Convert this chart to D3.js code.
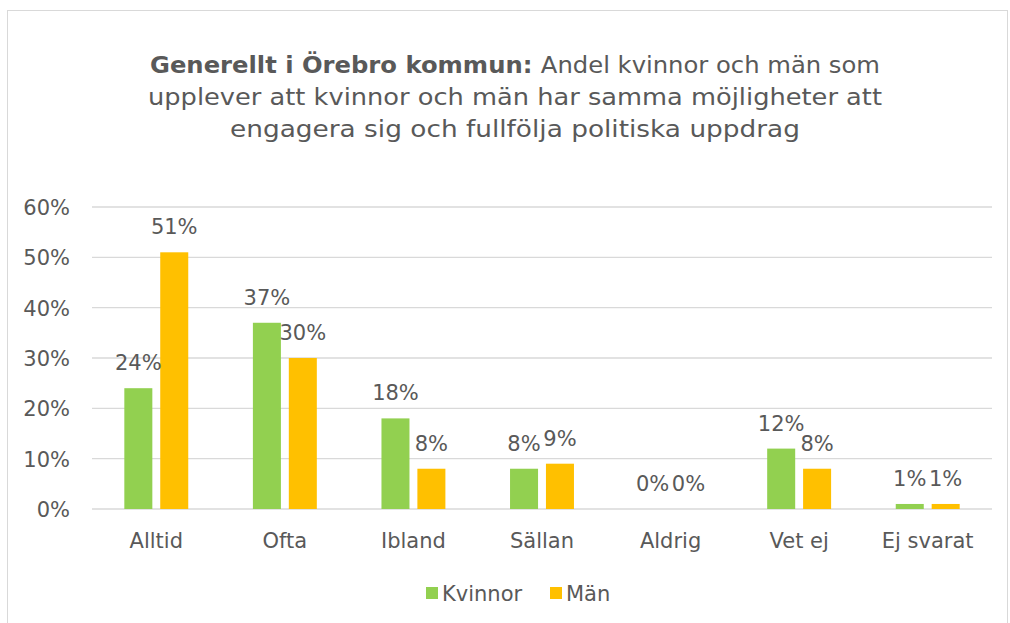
<!DOCTYPE html>
<html><head><meta charset="utf-8">
<script src="https://cdn.jsdelivr.net/npm/d3@7"></script>
<style>body{margin:0;background:#fff}svg{display:block}text{font-family:"DejaVu Sans",sans-serif;fill:#595959}</style>
</head><body>
<svg id="c" width="1010" height="623"></svg>
<script>
const categories = ["Alltid","Ofta","Ibland","Sällan","Aldrig","Vet ej","Ej svarat"];
const seriesNames = ["Kvinnor","Män"];
const kvinnor = [24,37,18,8,0,12,1];
const man = [51,30,8,9,0,8,1];
const yTicks = [0,10,20,30,40,50,60];
const colors = ["#92D050","#FFC000"];
const FS = "21px";

const svg = d3.select("#c");
svg.append("rect").attr("x",7.5).attr("y",10.5).attr("width",1000).attr("height",620)
  .attr("fill","#fff").attr("stroke","#D9D9D9");

const x0 = d3.scaleBand().domain(categories).range([92,992]);
const x1 = d3.scaleBand().domain(seriesNames).range([0,x0.bandwidth()]).paddingInner(0.22).paddingOuter(0.9);
const y = d3.scaleLinear().domain([0,60]).range([509,207]);

// gridlines
svg.append("g").selectAll("line").data(yTicks).join("line")
  .attr("x1",92).attr("x2",992).attr("y1",d=>y(d)).attr("y2",d=>y(d))
  .attr("stroke","#D9D9D9").attr("stroke-width",1.3);

// y axis labels
const yAxis = d3.axisLeft(y).tickValues(yTicks).tickFormat(d=>d+"%").tickSize(0).tickPadding(0);
const ya = svg.append("g").attr("transform","translate(70,0)").call(yAxis);
ya.select(".domain").remove();
ya.selectAll("text").style("font-size",FS).style("fill","#595959").style("font-family","DejaVu Sans").attr("dy","0.36em");

// x axis
const xAxis = d3.axisBottom(x0).tickSize(0).tickPadding(0);
const xa = svg.append("g").attr("transform","translate(0,548)").call(xAxis);
xa.select(".domain").remove();
xa.selectAll("text").style("font-size",FS).style("fill","#595959").style("font-family","DejaVu Sans").attr("dy","0").attr("y",0);

const data = categories.map((c,i)=>({c, vals:[{s:"Kvinnor",v:kvinnor[i]},{s:"Män",v:man[i]}]}));
const g = svg.append("g").selectAll("g").data(data).join("g").attr("transform",d=>`translate(${x0(d.c)},0)`);
g.selectAll("rect").data(d=>d.vals).join("rect")
  .attr("x",d=>x1(d.s)).attr("width",x1.bandwidth())
  .attr("y",d=>y(d.v)).attr("height",d=>y(0)-y(d.v))
  .attr("fill",(d,i)=>colors[i]);
g.selectAll("text.lbl").data(d=>d.vals).join("text").attr("class","lbl")
  .attr("x",d=>x1(d.s)+x1.bandwidth()/2).attr("y",d=>y(d.v)-18)
  .attr("text-anchor","middle").style("font-size",FS)
  .text(d=>d.v+"%");

// title
const tl = [ [["Generellt i Örebro kommun: ","bold"],["Andel kvinnor och män som","normal"]],
  [["upplever att kvinnor och män har samma möjligheter att","normal"]],
  [["engagera sig och fullfölja politiska uppdrag","normal"]] ];
const ty = [73,105,137];
const tw = [730,734,570];
tl.forEach((line,i)=>{
  const t = svg.append("text").attr("x",515).attr("y",ty[i]).attr("text-anchor","middle").style("font-size","23px")
    .attr("textLength",tw[i]).attr("lengthAdjust","spacingAndGlyphs");
  line.forEach(p=>t.append("tspan").style("font-weight",p[1]).text(p[0]));
});

// legend
const leg = svg.append("g");
const lx = [426,550];
seriesNames.forEach((s,i)=>{
  leg.append("rect").attr("x",lx[i]).attr("y",587).attr("width",12).attr("height",12).attr("fill",colors[i]);
  leg.append("text").attr("x",lx[i]+16).attr("y",601).style("font-size",FS).text(s);
});
</script>
</body></html>
